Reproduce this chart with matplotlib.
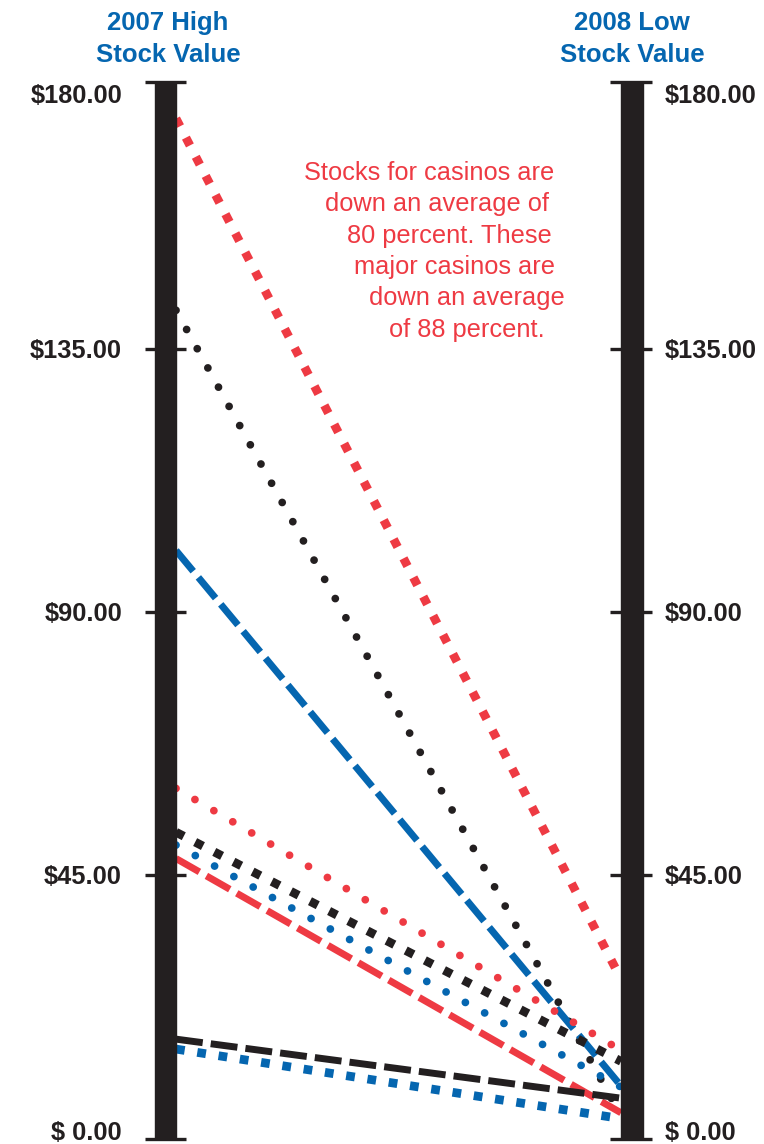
import matplotlib.pyplot as plt
from matplotlib.patches import Rectangle

plt.rcParams['font.family'] = ['Liberation Sans', 'DejaVu Sans']
plt.rcParams['lines.scale_dashes'] = False

RED = '#ee3a43'
BLUE = '#0566b0'
BLACK = '#231f20'

# stock values: 2007 high (left) and 2008 low (right)
high_2007 = [174.5, 141.7, 100.6, 59.9, 52.4, 50.2, 47.9, 17.0, 15.3]
low_2008 = [27.3, 3.9, 9.0, 15.1, 13.2, 8.8, 4.4, 6.9, 3.4]
colors = [RED, BLACK, BLUE, RED, BLACK, BLUE, RED, BLACK, BLUE]
styles = ['square', 'round', 'dash', 'round', 'square', 'round', 'dash', 'dash', 'square']

ticks = [0, 45, 90, 135, 180]
tick_labels = ['$ 0.00', '$45.00', '$90.00', '$135.00', '$180.00']

note = ['Stocks for casinos are', 'down an average of', '80 percent. These',
        'major casinos are', 'down an average', 'of 88 percent.']

fig = plt.figure(figsize=(7.64, 11.44), dpi=100)
ax = fig.add_axes([0, 0, 1, 1])
ax.set_xlim(-0.3955, 1.3213)
ax.set_ylim(-0.94, 194.78)
ax.axis('off')

# the two vertical bars
ax.add_patch(Rectangle((-0.0472, 0), 0.0472, 180.8, color=BLACK, zorder=3))
ax.add_patch(Rectangle((1.0, 0), 0.0494, 180.8, color=BLACK, zorder=3))

# tick marks across the bars
for t in ticks:
    yv = 180.8 if t == 180 else t
    ax.plot([-0.0697, 0.0225], [yv, yv], color=BLACK, lw=2.4, solid_capstyle='butt', zorder=3)
    ax.plot([0.9753, 1.0697], [yv, yv], color=BLACK, lw=2.4, solid_capstyle='butt', zorder=3)

# tick labels
for t, lab in zip(ticks, tick_labels):
    off = {0: -0.3, 180: -2.9}.get(t, -1.5)
    ax.text(-0.1213, t + off, lab, ha='right', va='baseline', fontsize=18.3,
            fontweight='bold', color=BLACK)
    ax.text(1.0989, t + off, lab, ha='left', va='baseline', fontsize=18.3,
            fontweight='bold', color=BLACK)

# headers
for xc, l1 in [(-0.018, '2007 High'), (1.0247, '2008 Low')]:
    ax.text(xc, 189.7, l1, ha='center', va='baseline', fontsize=18.5,
            fontweight='bold', color=BLUE)
    ax.text(xc, 184.1, 'Stock Value', ha='center', va='baseline', fontsize=18.5,
            fontweight='bold', color=BLUE)

# slope lines
for hi, lo, c, st in zip(high_2007, low_2008, colors, styles):
    if st == 'square':
        ax.plot([0, 1], [hi, lo], color=c, lw=6.3, dashes=(6.3, 9.2),
                dash_capstyle='butt', zorder=2)
    elif st == 'round':
        ax.plot([0, 1], [hi, lo], color=c, lw=5.6, dashes=(0.01, 15.8),
                dash_capstyle='round', zorder=2)
    else:
        ax.plot([0, 1], [hi, lo], color=c, lw=5.0, dashes=(19.4, 5.8),
                dash_capstyle='butt', zorder=2)

# annotation
note_x = [0.2876, 0.3348, 0.3843, 0.4000, 0.4337, 0.4787]
for i, (line, xl) in enumerate(zip(note, note_x)):
    ax.text(xl, 164.0 - i * 5.37, line, ha='left', va='baseline', fontsize=18.3,
            color=RED)

fig.savefig('out.png', dpi=100)
